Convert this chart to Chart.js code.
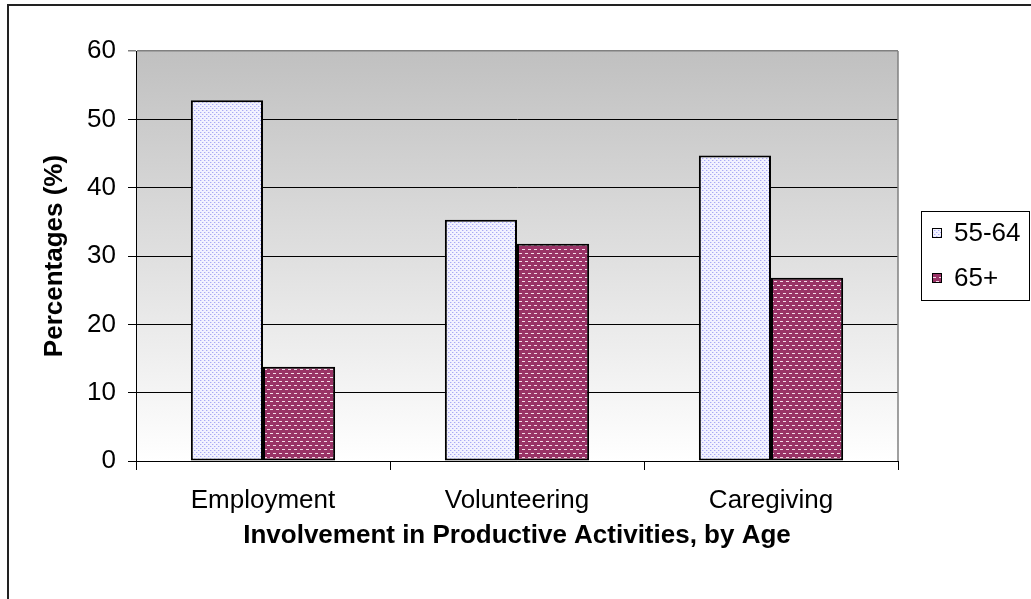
<!DOCTYPE html>
<html>
<head>
<meta charset="utf-8">
<script src="https://cdn.jsdelivr.net/npm/chart.js@4/dist/chart.umd.min.js"></script>
<style>
  html, body { margin: 0; padding: 0; background: #fff; overflow: hidden; }
  #wrap { position: relative; width: 1031px; height: 599px; }
  #frame { position: absolute; left: 7px; top: 4px; width: 2000px; height: 2000px;
           border-left: 2px solid #222; border-top: 2px solid #222; }
  canvas { position: absolute; left: 0; top: 0; }
</style>
</head>
<body>
<div id="wrap">
  <div id="frame"></div>
  <canvas id="chart" width="1031" height="599"></canvas>
</div>
<script>
// Involvement in productive activities, by age group (percentages)
const categories = ['Employment', 'Volunteering', 'Caregiving'];
const seriesNames = ['55-64', '65+'];
const ages55to64 = [52.8, 35.3, 44.7];
const ages65plus = [13.8, 31.8, 26.8];
const yTicks = [0, 10, 20, 30, 40, 50, 60];

const FONT = '"Liberation Sans", Arial, sans-serif';

// Dotted lavender fill
function dotPattern() {
  const c = document.createElement('canvas');
  c.width = 4; c.height = 4;
  const g = c.getContext('2d');
  g.fillStyle = '#f2f2ff';
  g.fillRect(0, 0, 4, 4);
  g.fillStyle = '#a9a9f5';
  g.fillRect(0, 0, 1, 1);
  g.fillRect(2, 2, 1, 1);
  g.fillStyle = '#d6d6fb';
  g.fillRect(1, 0, 1, 1);
  g.fillRect(3, 2, 1, 1);
  return g.createPattern(c, 'repeat');
}

// Maroon fill with staggered light dashes
function dashPattern() {
  const c = document.createElement('canvas');
  c.width = 6; c.height = 8;
  const g = c.getContext('2d');
  g.fillStyle = '#993366';
  g.fillRect(0, 0, 6, 8);
  g.fillStyle = '#f3dbe7';
  g.fillRect(0, 1, 3, 1);
  g.fillRect(3, 5, 3, 1);
  return g.createPattern(c, 'repeat');
}

const fill55 = dotPattern();
const fill65 = dashPattern();

// Plot-area gradient, right border and legend box
const decor = {
  id: 'decor',
  beforeDraw(chart) {
    const { ctx, chartArea: a } = chart;
    const grad = ctx.createLinearGradient(0, a.top, 0, a.bottom);
    grad.addColorStop(0, '#c0c0c0');
    grad.addColorStop(1, '#ffffff');
    ctx.save();
    ctx.fillStyle = grad;
    ctx.fillRect(a.left, a.top, a.right - a.left, a.bottom - a.top);
    ctx.restore();
  },
  afterDraw(chart) {
    const { ctx, chartArea: a } = chart;
    ctx.save();
    ctx.strokeStyle = '#808080';
    ctx.lineWidth = 1.5;
    ctx.beginPath();
    ctx.moveTo(a.right, a.top);
    ctx.lineTo(a.right, a.bottom);
    ctx.stroke();

    // legend
    const bx = 921.5, by = 211.5, bw = 108, bh = 89;
    ctx.fillStyle = '#ffffff';
    ctx.fillRect(bx, by, bw, bh);
    ctx.strokeStyle = '#000';
    ctx.lineWidth = 1;
    ctx.strokeRect(bx, by, bw, bh);
    const fills = [fill55, fill65];
    const rows = [233, 278];
    ctx.font = '26px ' + FONT;
    ctx.textBaseline = 'middle';
    ctx.textAlign = 'left';
    chart.data.datasets.forEach((ds, i) => {
      const y = rows[i];
      ctx.fillStyle = fills[i];
      ctx.fillRect(932, y - 5, 10, 10);
      ctx.strokeStyle = '#000';
      ctx.strokeRect(932.5, y - 4.5, 9, 9);
      ctx.fillStyle = '#000';
      ctx.fillText(ds.label, 954, y + 1);
    });
    ctx.restore();
  }
};

new Chart(document.getElementById('chart'), {
  type: 'bar',
  data: {
    labels: categories,
    datasets: [
      { label: seriesNames[0], data: ages55to64, backgroundColor: fill55,
        borderColor: '#000', borderWidth: 2, borderSkipped: false },
      { label: seriesNames[1], data: ages65plus, backgroundColor: fill65,
        borderColor: '#000', borderWidth: 2, borderSkipped: false }
    ]
  },
  options: {
    responsive: false,
    animation: false,
    devicePixelRatio: 1,
    layout: { padding: { top: 51, right: 133, bottom: 0, left: 0 } },
    datasets: { bar: { categoryPercentage: 0.568, barPercentage: 1.0 } },
    plugins: { legend: { display: false }, tooltip: { enabled: false } },
    scales: {
      x: {
        afterFit(scale) { scale.height = 138; },
        grid: { offset: true, drawOnChartArea: false, drawTicks: true,
                tickLength: 9, color: '#000', lineWidth: 1 },
        border: { color: '#000', width: 1 },
        ticks: { color: '#000', font: { family: FONT, size: 26 }, padding: 15 },
        title: { display: true, text: 'Involvement in Productive Activities, by Age',
                 color: '#000', font: { family: FONT, size: 26, weight: 'bold' },
                 padding: { top: 0, bottom: 48 } }
      },
      y: {
        min: 0, max: 60,
        afterFit(scale) { scale.width = 136; },
        afterBuildTicks(scale) { scale.ticks = yTicks.map(v => ({ value: v })); },
        grid: {
          color: ctx => (ctx.tick && ctx.tick.value === 60) ? '#808080' : '#000',
          lineWidth: ctx => (ctx.tick && ctx.tick.value === 60) ? 1.5 : 1,
          tickLength: 8, drawTicks: true
        },
        border: { color: '#000', width: 1 },
        ticks: { color: '#000', font: { family: FONT, size: 26 }, padding: 12 },
        title: { display: true, text: 'Percentages (%)', color: '#000',
                 font: { family: FONT, size: 26, weight: 'bold' },
                 padding: { top: 39, bottom: 0 } }
      }
    }
  },
  plugins: [decor]
});
</script>
</body>
</html>
